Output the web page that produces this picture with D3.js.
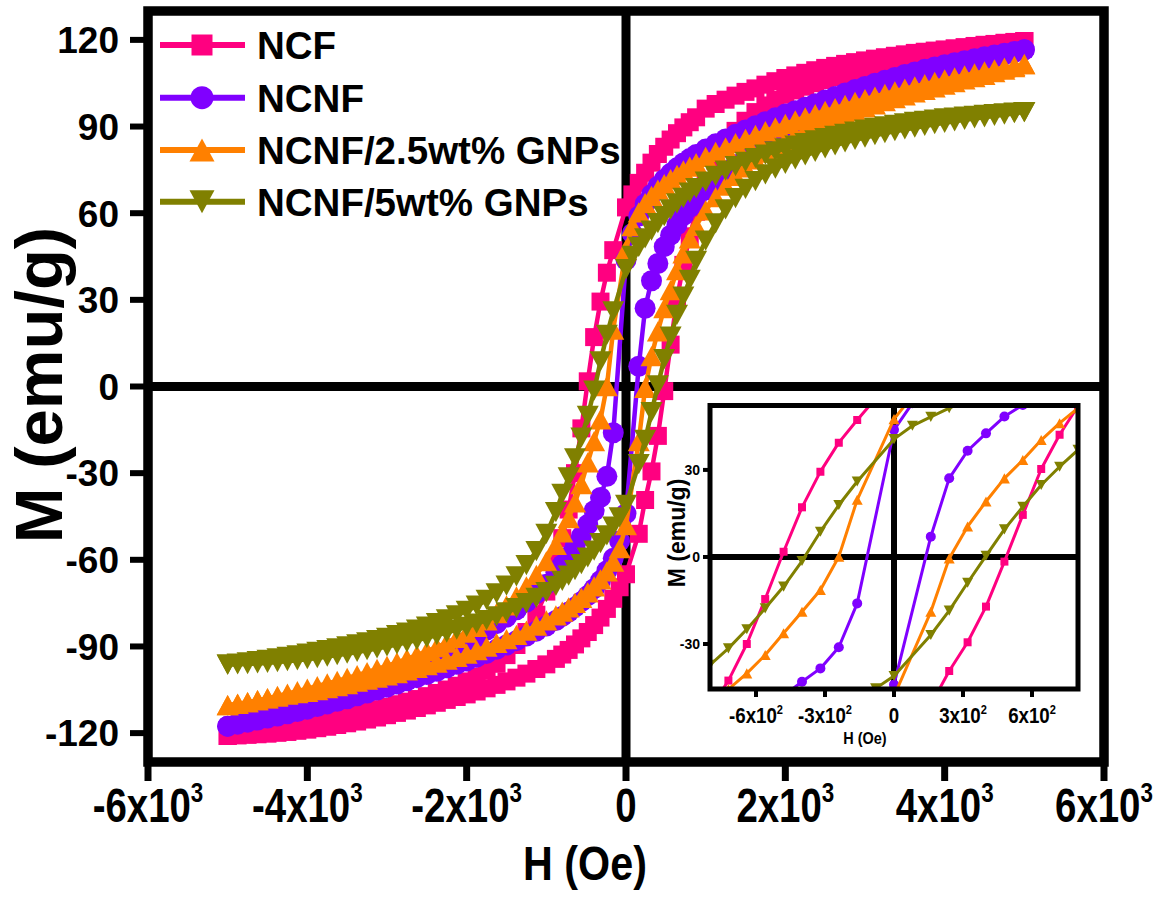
<!DOCTYPE html>
<html>
<head>
<meta charset="utf-8">
<script src="https://cdn.jsdelivr.net/npm/d3@7"></script>
<style>
body { margin: 0; background: #fff; }
text { font-family: "Liberation Sans", Arial, sans-serif; font-weight: bold; fill: #000; }
</style>
</head>
<body>
<svg id="chart" width="1166" height="897"></svg>
<script>
// field sweep (Oe): descending branch +5000 -> -5000, ascending branch -5000 -> +5000
var hDown = [5000,4875,4750,4625,4500,4375,4250,4125,4000,3875,3750,3625,3500,3375,3250,3125,3000,2875,2750,2625,2500,2375,2250,2125,2000,1875,1750,1625,1500,1375,1250,1125,1000,
  880,800,720,640,560,480,400,320,240,160,80,0,-160,-240,-320,-400,-480,-560,-640,-720,-800,-880,
  -1000,-1125,-1250,-1375,-1500,-1625,-1750,-1875,-2000,-2125,-2250,-2375,-2500,-2625,-2750,-2875,-3000,-3125,-3250,-3375,-3500,-3625,-3750,-3875,-4000,-4125,-4250,-4375,-4500,-4625,-4750,-4875,-5000];
var hUp = [-5000,-4875,-4750,-4625,-4500,-4375,-4250,-4125,-4000,-3875,-3750,-3625,-3500,-3375,-3250,-3125,-3000,-2875,-2750,-2625,-2500,-2375,-2250,-2125,-2000,-1875,-1750,-1625,-1500,-1375,-1250,-1125,-1000,
  -880,-800,-720,-640,-560,-480,-400,-320,-240,-160,-80,0,160,240,320,400,480,560,640,720,800,880,
  1000,1125,1250,1375,1500,1625,1750,1875,2000,2125,2250,2375,2500,2625,2750,2875,3000,3125,3250,3375,3500,3625,3750,3875,4000,4125,4250,4375,4500,4625,4750,4875,5000];

// M (emu/g)
var ncfDown = [119.6,119.3,119.0,118.6,118.3,117.9,117.5,117.1,116.7,116.3,115.9,115.5,115.0,114.5,114.0,113.5,112.9,112.3,111.7,111.0,110.3,109.5,108.6,107.7,106.8,105.7,104.5,103.2,102.0,100.7,99.3,97.8,96.2,
  93.2,91.5,89.7,87.7,85.5,83.0,80.5,77.5,74.0,70.5,66.5,62.0,47.2,39.4,29.4,17.1,1.8,-14.5,-30.0,-42.6,-52.5,-61,
  -71,-79,-85,-89.5,-93,-96,-98.4,-100.4,-102.1,-103.6,-104.9,-106.1,-107.2,-108.2,-109.1,-110,-110.9,-111.7,-112.5,-113.2,-113.9,-114.6,-115.2,-115.8,-116.4,-117,-117.5,-118,-118.6,-119.1,-119.7,-120.3,-121];
var ncfUp = [-121,-120.8,-120.6,-120.4,-120.2,-119.9,-119.6,-119.2,-118.8,-118.3,-117.8,-117.2,-116.6,-116,-115.3,-114.6,-113.8,-113,-112.2,-111.3,-110.4,-109.5,-108.5,-107.5,-106.6,-105.6,-104.5,-103.3,-102.1,-100.8,-99.4,-97.8,-96.2,
  -94.3,-92.8,-91.2,-89.3,-87.2,-85,-82.6,-80,-77,-73.5,-69.5,-65,-51,-39.3,-29.4,-17.1,-1.6,14.5,30.3,42.1,52,60.5,
  70,78,84,88.5,92,95,97.3,99.3,101,102.5,103.8,105,106.1,107.1,108,108.9,109.8,110.6,111.4,112.1,112.8,113.5,114.1,114.7,115.3,115.9,116.4,116.9,117.4,117.9,118.4,119,119.6];

var ncnfDown = [116.6,116,115.4,114.8,114.2,113.5,112.8,112.1,111.4,110.6,109.8,108.9,108,107,106,105,103.9,102.8,101.6,100.4,99.2,97.9,96.7,95.5,94.3,93,91.7,90.3,88.8,87.3,85.7,84,82.2,
  80.3,78.9,77.4,75.7,73.8,71.7,69.3,66.5,63.2,59,53,43.8,-16,-31.1,-38.4,-43,-47.8,-51.8,-55.5,-58.8,-61.7,-64.3,
  -68.5,-71.7,-74.6,-77.3,-79.8,-82.1,-84.3,-86.4,-88.3,-90.1,-91.8,-93.4,-94.9,-96.4,-97.8,-99.2,-100.5,-101.8,-103,-104.2,-105.4,-106.5,-107.6,-108.7,-109.8,-110.8,-111.8,-112.8,-113.8,-114.7,-115.7,-116.6,-117.6];
var ncnfUp = [-117.6,-116.9,-116.2,-115.5,-114.8,-114.1,-113.3,-112.5,-111.7,-110.8,-109.9,-109,-108.1,-107.1,-106.1,-105.1,-104.1,-103,-101.9,-100.8,-99.7,-98.6,-97.4,-96.2,-95,-93.7,-92.4,-91,-89.5,-88,-86.4,-84.7,-82.9,
  -81,-79.6,-78.1,-76.4,-74.5,-72.4,-70,-67.2,-63.8,-59.5,-53.5,-44,7,27.1,36.6,42.6,48.4,52.4,56,59.2,62,64.5,
  68,71.2,74.1,76.8,79.3,81.6,83.8,85.9,87.8,89.6,91.3,92.9,94.4,95.9,97.3,98.7,100,101.3,102.5,103.7,104.9,106,107.1,108.2,109.2,110.2,111.2,112.1,113,113.9,114.8,115.7,116.6];

var gnp25Down = [111.6,111,110.4,109.8,109.1,108.4,107.7,107,106.3,105.5,104.7,103.9,103.1,102.2,101.3,100.4,99.5,98.5,97.5,96.4,95.4,94.3,93.2,92.1,90.9,89.7,88.4,87.1,85.7,84.3,82.8,81.2,79.5,
  77.3,76.1,74.8,73.3,71.8,70.1,68.2,66,63.5,60.3,55.5,47.5,19.7,0.1,-11.4,-18.9,-26.3,-33.8,-40.1,-45.6,-50.5,-54.8,
  -60.5,-65.2,-69.2,-72.7,-75.8,-78.5,-81,-83.2,-85.2,-87,-88.7,-90.2,-91.6,-93,-94.3,-95.5,-96.7,-97.8,-98.9,-99.9,-100.9,-101.9,-102.8,-103.7,-104.6,-105.5,-106.3,-107.1,-107.9,-108.6,-109.3,-109.9,-110.3];
var gnp25Up = [-110.3,-109.8,-109.3,-108.6,-108,-107.4,-106.7,-106.2,-105.7,-105.1,-104.4,-103.7,-103,-102.2,-101.5,-100.8,-100,-99.2,-98.3,-97.4,-96.5,-95.6,-94.6,-93.6,-92.5,-91.3,-90.1,-88.8,-87.5,-86,-84.5,-82.8,-81,
  -79.2,-77.9,-76.5,-74.9,-73.2,-71.3,-69.2,-66.8,-64,-60.6,-56,-48,-18.9,-0.5,10.5,19.1,27.1,33.4,40.3,46.1,51.3,55.6,
  61,65.6,69.5,72.9,75.9,78.6,81,83.2,85.2,87,88.7,90.2,91.6,92.9,94.2,95.4,96.6,97.7,98.8,99.8,100.8,101.8,102.7,103.6,104.5,105.4,106.3,107.1,107.9,108.8,109.7,110.6,111.6];

var gnp5Down = [95,94.8,94.6,94.3,94,93.7,93.4,93.1,92.8,92.4,92,91.6,91.1,90.6,90.1,89.5,88.9,88.2,87.5,86.8,86,85.2,84.3,83.4,82.4,81.4,80.3,79.1,77.8,76.3,74.7,72.9,70.9,
  68.7,67.1,65.3,63.4,61.3,59,56.6,54,51.3,48.3,45.2,40.6,26,17.9,8.7,-1.4,-10.2,-17.7,-24.9,-31.5,-37.2,-43.5,
  -51,-57,-61.8,-65.7,-68.9,-71.6,-73.9,-75.9,-77.7,-79.2,-80.6,-81.9,-83.1,-84.2,-85.2,-86.1,-87,-87.8,-88.6,-89.3,-90,-90.7,-91.3,-91.9,-92.5,-93.1,-93.6,-94.1,-94.6,-95.1,-95.5,-95.9,-96.3];
var gnp5Up = [-96.3,-96.2,-96.1,-95.9,-95.7,-95.4,-95.1,-94.8,-94.4,-94,-93.5,-93,-92.5,-91.9,-91.3,-90.7,-90,-89.3,-88.6,-87.8,-87,-86.1,-85.2,-84.2,-83.2,-82.1,-80.9,-79.6,-78.2,-76.7,-75,-73.2,-71.2,
  -69,-67.3,-65.5,-63.6,-61.5,-59.2,-56.8,-54.2,-51.5,-48.5,-45.3,-41,-26.9,-18.5,-8.9,0.4,9.5,17.3,24.8,31.1,36.9,43.5,
  50.5,56.5,61.3,65.2,68.4,71.1,73.4,75.4,77.1,78.6,80,81.2,82.4,83.5,84.5,85.4,86.2,87,87.7,88.4,89,89.6,90.2,90.8,91.3,91.8,92.3,92.8,93.2,93.7,94.1,94.6,95];

var names = ["NCF", "NCNF", "NCNF/2.5wt% GNPs", "NCNF/5wt% GNPs"];
var colors = ["#FF0080", "#8000FF", "#FF8000", "#808000"];
var shapes = ["square", "circle", "up", "down"];
var downs = [ncfDown, ncnfDown, gnp25Down, gnp5Down];
var ups = [ncfUp, ncnfUp, gnp25Up, gnp5Up];

var xTicks = [-6000, -4000, -2000, 0, 2000, 4000, 6000];
var xTickLabels = [["-6x10", "3"], ["-4x10", "3"], ["-2x10", "3"], ["0", ""], ["2x10", "3"], ["4x10", "3"], ["6x10", "3"]];
var yTicks = [-120, -90, -60, -30, 0, 30, 60, 90, 120];
var insetXTicks = [-600, -300, 0, 300, 600];
var insetXTickLabels = [["-6x10", "2"], ["-3x10", "2"], ["0", ""], ["3x10", "2"], ["6x10", "2"]];
var insetYTicks = [-30, 0, 30];

var svg = d3.select("#chart");

function markerPath(shape, s) {
  var a = s / 2;
  if (shape == "square") return "M" + (-a) + "," + (-a) + "H" + a + "V" + a + "H" + (-a) + "Z";
  if (shape == "circle") return d3.symbol(d3.symbolCircle, Math.PI * a * a)();
  var h = s * 0.92;
  if (shape == "up") return "M0," + (-h / 2) + "L" + a + "," + (h / 2) + "L" + (-a) + "," + (h / 2) + "Z";
  return "M0," + (h / 2) + "L" + a + "," + (-h / 2) + "L" + (-a) + "," + (-h / 2) + "Z";
}

function loopPoints(i) {
  var p = [];
  downs[i].forEach(function(m, k) { p.push([hDown[k], m]); });
  ups[i].forEach(function(m, k) { p.push([hUp[k], m]); });
  return p;
}

function drawSeries(g, sx, sy, i, lw, sizes) {
  var pts = loopPoints(i);
  var line = d3.line().x(d => sx(d[0])).y(d => sy(d[1]));
  g.append("path").attr("d", line(pts)).attr("fill", "none")
    .attr("stroke", colors[i]).attr("stroke-width", lw).attr("stroke-linejoin", "round");
  g.selectAll(null).data(pts).enter().append("path")
    .attr("transform", d => "translate(" + sx(d[0]) + "," + sy(d[1]) + ")")
    .attr("d", markerPath(shapes[i], sizes[i]))
    .attr("fill", colors[i]);
}

// condensed label with optional superscript
function supText(g, xx, yy, base, sup, size, supSize, sx) {
  var t = g.append("text").attr("transform", "translate(" + xx + "," + yy + ") scale(" + sx + ",1)")
    .attr("text-anchor", "middle").style("font-size", size + "px");
  t.append("tspan").text(base);
  if (sup) t.append("tspan").attr("dy", -size * 0.42).style("font-size", supSize + "px").text(sup);
  return t;
}

// ---------- main plot ----------
var x = d3.scaleLinear().domain([-6000, 6000]).range([148, 1104]);
var y = d3.scaleLinear().domain([-130, 130]).range([762, 11]);

svg.append("line").attr("x1", x(0)).attr("x2", x(0)).attr("y1", y(130)).attr("y2", y(-130))
  .attr("stroke", "#000").attr("stroke-width", 9);
svg.append("line").attr("x1", x(-6000)).attr("x2", x(6000)).attr("y1", y(0)).attr("y2", y(0))
  .attr("stroke", "#000").attr("stroke-width", 9);

var mainG = svg.append("g");
var mainSizes = [18, 21, 22, 22];
for (var i = 0; i < 4; i++) drawSeries(mainG, x, y, i, 4.5, mainSizes);

svg.append("rect").attr("x", x(-6000)).attr("y", y(130)).attr("width", x(6000) - x(-6000)).attr("height", y(-130) - y(130))
  .attr("fill", "none").attr("stroke", "#000").attr("stroke-width", 9.5);

yTicks.forEach(function(v) {
  svg.append("line").attr("x1", 130).attr("x2", x(-6000)).attr("y1", y(v)).attr("y2", y(v))
    .attr("stroke", "#000").attr("stroke-width", 6);
  svg.append("text").attr("x", 119).attr("y", y(v)).attr("dy", "0.36em").attr("text-anchor", "end")
    .style("font-size", "37px").text(v);
});
xTicks.forEach(function(v, k) {
  svg.append("line").attr("x1", x(v)).attr("x2", x(v)).attr("y1", y(-130)).attr("y2", 781)
    .attr("stroke", "#000").attr("stroke-width", 7);
  supText(svg, x(v), 822, xTickLabels[k][0], xTickLabels[k][1], 48, 28, 0.8);
});

svg.append("text").attr("transform", "translate(585,880) scale(0.86,1)").attr("text-anchor", "middle")
  .style("font-size", "48px").text("H (Oe)");
svg.append("text").attr("transform", "translate(62,385) rotate(-90)").attr("text-anchor", "middle")
  .style("font-size", "67px").text("M (emu/g)");

// legend
var legY = [45, 97.7, 150, 201.7];
var legSizes = [21, 23, 25, 25];
names.forEach(function(n, i) {
  svg.append("line").attr("x1", 160).attr("x2", 245).attr("y1", legY[i]).attr("y2", legY[i])
    .attr("stroke", colors[i]).attr("stroke-width", 6);
  svg.append("path").attr("transform", "translate(202," + legY[i] + ")")
    .attr("d", markerPath(shapes[i], legSizes[i])).attr("fill", colors[i]);
  svg.append("text").attr("x", 257).attr("y", legY[i] + 14).style("font-size", "38.5px").text(n);
});

// ---------- inset ----------
var xi = d3.scaleLinear().domain([-800, 800]).range([710, 1078]);
var yi = d3.scaleLinear().domain([-45.5, 52.2]).range([689, 405.5]);

svg.append("rect").attr("x", xi(-800)).attr("y", yi(52.2)).attr("width", xi(800) - xi(-800)).attr("height", yi(-45.5) - yi(52.2))
  .attr("fill", "#fff");
svg.append("clipPath").attr("id", "insetClip").append("rect")
  .attr("x", xi(-800)).attr("y", yi(52.2)).attr("width", xi(800) - xi(-800)).attr("height", yi(-45.5) - yi(52.2));

var insetG = svg.append("g").attr("clip-path", "url(#insetClip)");
insetG.append("line").attr("x1", xi(0)).attr("x2", xi(0)).attr("y1", yi(52.2)).attr("y2", yi(-45.5))
  .attr("stroke", "#000").attr("stroke-width", 6);
insetG.append("line").attr("x1", xi(-800)).attr("x2", xi(800)).attr("y1", yi(0)).attr("y2", yi(0))
  .attr("stroke", "#000").attr("stroke-width", 6);
var insetSizes = [8, 10, 11, 11];
for (var j = 0; j < 4; j++) drawSeries(insetG, xi, yi, j, 3, insetSizes);

svg.append("rect").attr("x", xi(-800)).attr("y", yi(52.2)).attr("width", xi(800) - xi(-800)).attr("height", yi(-45.5) - yi(52.2))
  .attr("fill", "none").attr("stroke", "#000").attr("stroke-width", 5);

insetYTicks.forEach(function(v) {
  svg.append("line").attr("x1", 703).attr("x2", xi(-800)).attr("y1", yi(v)).attr("y2", yi(v))
    .attr("stroke", "#000").attr("stroke-width", 4);
  svg.append("text").attr("x", 700).attr("y", yi(v)).attr("dy", "0.36em").attr("text-anchor", "end")
    .style("font-size", "14px").text(v);
});
insetXTicks.forEach(function(v, k) {
  svg.append("line").attr("x1", xi(v)).attr("x2", xi(v)).attr("y1", yi(-45.5)).attr("y2", 697)
    .attr("stroke", "#000").attr("stroke-width", 4);
  supText(svg, xi(v), 723, insetXTickLabels[k][0], insetXTickLabels[k][1], 22, 13, 0.85);
});
svg.append("text").attr("transform", "translate(865,744) scale(0.85,1)").attr("text-anchor", "middle")
  .style("font-size", "17px").text("H (Oe)");
svg.append("text").attr("transform", "translate(685,533) rotate(-90)").attr("text-anchor", "middle")
  .style("font-size", "23px").text("M (emu/g)");
</script>
</body>
</html>
